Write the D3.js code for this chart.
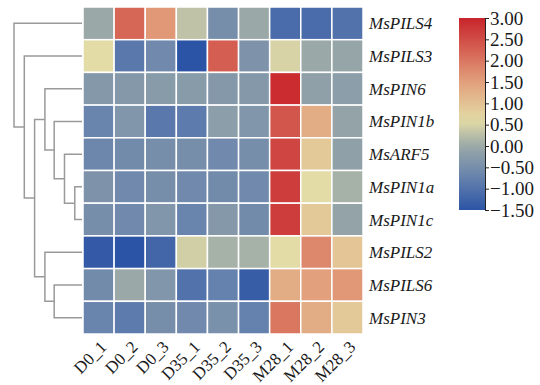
<!DOCTYPE html>
<html>
<head>
<meta charset="utf-8">
<script src="https://cdn.jsdelivr.net/npm/d3@7"></script>
<style>
  body { margin: 0; background: #fff; }
  text { font-family: "Liberation Serif", "DejaVu Serif", serif; fill: #1a1a1a; }
</style>
</head>
<body>
<div id="chart"></div>
<script>
const samples = ["D0_1", "D0_2", "D0_3", "D35_1", "D35_2", "D35_3", "M28_1", "M28_2", "M28_3"];
const genes = ["MsPILS4", "MsPILS3", "MsPIN6", "MsPIN1b", "MsARF5", "MsPIN1a", "MsPIN1c", "MsPILS2", "MsPILS6", "MsPIN3"];

// z-scores, one row per gene, columns follow samples
const values = [
  [0.0, 2.2, 1.6, 0.3, -0.5, 0.0, -1.1, -1.1, -1.0],
  [0.6, -0.9, -0.6, -1.5, 2.3, -0.4, 0.5, 0.0, -0.05],
  [-0.3, -0.3, -0.25, -0.25, -0.3, -0.3, 2.9, -0.15, -0.2],
  [-0.7, -0.35, -0.9, -0.85, -0.2, -0.35, 2.4, 1.3, -0.1],
  [-0.65, -0.55, -0.5, -0.5, -0.6, -0.5, 2.6, 0.9, -0.15],
  [-0.4, -0.6, -0.5, -0.6, -0.55, -0.6, 2.7, 0.6, 0.1],
  [-0.5, -0.6, -0.35, -0.7, -0.3, -0.55, 2.7, 0.9, -0.1],
  [-1.4, -1.5, -1.2, 0.45, 0.1, 0.1, 0.6, 1.8, 0.95],
  [-0.55, 0.0, -0.35, -1.0, -0.75, -1.35, 1.3, 1.5, 1.6],
  [-0.7, -0.85, -0.5, -0.6, -0.45, -0.75, 2.0, 1.3, 0.9]
];

// hierarchical clustering of rows: [left, right, height]
const merges = [
  ["MsPIN1a", "MsPIN1c", 0.7],
  ["MsARF5", "n0", 1.7],
  ["MsPIN1b", "n1", 2.7],
  ["MsPIN6", "n2", 3.6],
  ["MsPILS6", "MsPIN3", 2.7],
  ["MsPILS2", "n4", 3.6],
  ["n3", "n5", 4.6],
  ["MsPILS3", "n6", 5.6],
  ["MsPILS4", "n7", 6.6]
];

const legendTicks = [3.0, 2.5, 2.0, 1.5, 1.0, 0.5, 0.0, -0.5, -1.0, -1.5];

const width = 540, height = 385;
const grid = { left: 83, right: 363, top: 7, bottom: 334 };

const svg = d3.select("#chart").append("svg")
  .attr("width", width)
  .attr("height", height);

const x = d3.scaleBand().domain(samples).range([grid.left, grid.right]);
const y = d3.scaleBand().domain(genes).range([grid.top, grid.bottom]);

const color = d3.scaleLinear()
  .domain([-1.5, -0.75, 0.0, 0.6, 1.5, 3.0])
  .range(["#2c54a6", "#6581ad", "#9aa8a7", "#e3dca6", "#e2a07c", "#c8242b"])
  .interpolate(d3.interpolateRgb)
  .clamp(true);

// cells
const cells = [];
values.forEach((row, i) => row.forEach((v, j) => cells.push({ gene: genes[i], sample: samples[j], v })));

svg.append("g")
  .selectAll("rect")
  .data(cells)
  .join("rect")
  .attr("x", d => x(d.sample))
  .attr("y", d => y(d.gene))
  .attr("width", x.bandwidth())
  .attr("height", y.bandwidth())
  .attr("fill", d => color(d.v))
  .attr("stroke", "#fff")
  .attr("stroke-width", 1.5);

// row labels
svg.append("g")
  .selectAll("text")
  .data(genes)
  .join("text")
  .attr("x", grid.right + 6)
  .attr("y", d => y(d) + y.bandwidth() / 2)
  .attr("dy", "0.35em")
  .attr("font-size", 17)
  .attr("font-style", "italic")
  .text(d => d);

// column labels
svg.append("g")
  .selectAll("text")
  .data(samples)
  .join("text")
  .attr("transform", d => `translate(${x(d) + x.bandwidth() / 2 + 9},${grid.bottom + 14}) rotate(-45)`)
  .attr("text-anchor", "end")
  .attr("font-size", 17)
  .text(d => d);

// dendrogram
const hx = d3.scaleLinear().domain([0, 6.6]).range([82, 14]);
const pos = {};
genes.forEach(g => pos[g] = { x: hx(0), y: y(g) + y.bandwidth() / 2 });
const dendro = svg.append("g")
  .attr("fill", "none")
  .attr("stroke", "#9a9a9a")
  .attr("stroke-width", 1.5);
merges.forEach(([a, b, h], i) => {
  const pa = pos[a], pb = pos[b], nx = hx(h);
  const p = d3.path();
  p.moveTo(pa.x, pa.y);
  p.lineTo(nx, pa.y);
  p.lineTo(nx, pb.y);
  p.lineTo(pb.x, pb.y);
  dendro.append("path").attr("d", p.toString());
  pos["n" + i] = { x: nx, y: (pa.y + pb.y) / 2 };
});

// colour bar
const bar = { x: 459, w: 26, top: 18, bottom: 210 };
const cy = d3.scaleLinear().domain([-1.5, 3.0]).range([bar.bottom, bar.top]);
const defs = svg.append("defs");
const grad = defs.append("linearGradient")
  .attr("id", "cbar")
  .attr("x1", 0).attr("y1", 1).attr("x2", 0).attr("y2", 0);
d3.range(0, 1.0001, 0.05).forEach(t => {
  grad.append("stop")
    .attr("offset", t)
    .attr("stop-color", color(-1.5 + t * 4.5));
});
svg.append("rect")
  .attr("x", bar.x)
  .attr("y", bar.top)
  .attr("width", bar.w)
  .attr("height", bar.bottom - bar.top)
  .attr("fill", "url(#cbar)");

const axis = svg.append("g")
  .attr("transform", `translate(${bar.x + bar.w},0)`)
  .call(d3.axisRight(cy).tickValues(legendTicks).tickFormat(d => d3.format(".2f")(d).replace("-", "\u2212")).tickSize(4).tickPadding(1));
axis.select(".domain").attr("stroke", "#222");
axis.selectAll(".tick line").attr("stroke", "#222");
axis.selectAll(".tick text")
  .attr("font-size", 19)
  .attr("font-family", "Liberation Serif, serif")
  .attr("fill", "#1a1a1a");
</script>
</body>
</html>
